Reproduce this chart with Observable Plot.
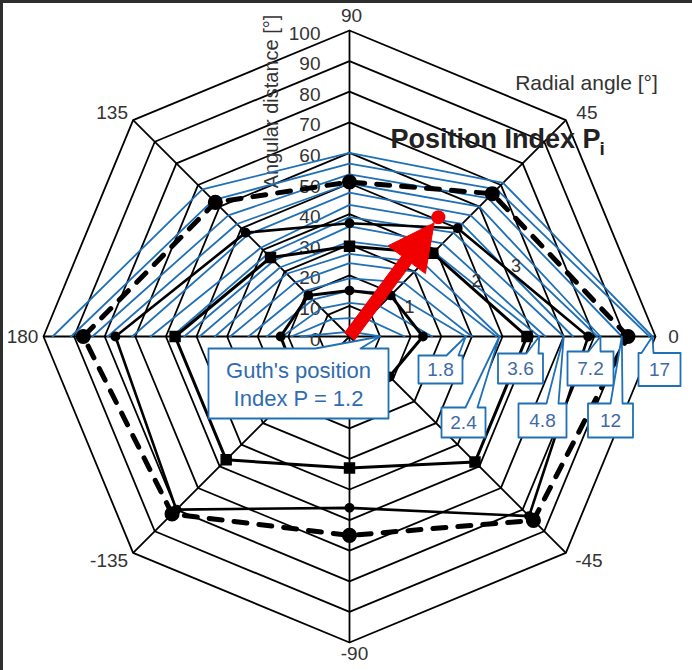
<!DOCTYPE html>
<html><head><meta charset="utf-8">
<script src="https://cdn.jsdelivr.net/npm/d3@7"></script>
<script src="https://cdn.jsdelivr.net/npm/@observablehq/plot@0.6"></script>
<style>
html,body{margin:0;padding:0;background:#fff;}
#wrap{position:relative;width:692px;height:670px;overflow:hidden;background:#fff}
#wrap svg{display:block}
.bl{position:absolute;left:0;top:0;width:3px;height:670px;background:#2e2e2e}
.bt{position:absolute;left:0;top:0;width:692px;height:3px;background:#2e2e2e}
</style></head><body><div id="wrap"></div>
<script>
// ---------- data ----------
const spokeAngles = [0, 45, 90, 135, 180, -135, -90, -45];
const angleLabels = ["0", "45", "90", "135", "180", "-135", "-90", "-45"];
const ringValues = [10, 20, 30, 40, 50, 60, 70, 80, 90, 100];
const tickValues = [0, 10, 20, 30, 40, 50, 60, 70, 80, 90, 100];
const tickLabels = ["0", "10", "20", "30", "40", "50", "60", "70", "80", "90", "100"];

// Guth's position index isolines (upper half), radius at radial angles 0,45,90,135,180
const guthAngles = [0, 45, 90, 135, 180];
const guthR0   = [10, 18, 27, 38, 40, 48, 49, 62, 64, 70, 73, 81, 82, 89, 98, 99];
const guthR45  = [2, 8, 14, 20, 25, 30, 34, 39, 43, 48, 52, 56, 60, 64, 68, 71];
const guthR90  = [1.3, 6, 11, 15, 19, 24, 27, 31, 36, 39, 43, 47, 50, 53, 56.5, 60];
const guthR135 = [2, 8, 13, 17, 21, 25, 29, 32, 35, 38, 41, 47, 52, 56, 63, 68];
const guthR180 = [16, 19, 22, 27, 33, 39, 44, 49, 54, 58, 65, 71, 79, 84, 91, 97];
const guthLabels = ["1.2", null, null, "1.8", null, null, "2.4", "3.6", null, "4.8", null, null, "7.2", "12", null, "17"];

// Position index P_i isolines (all directions), radius at spokeAngles
const pi1 = [24, 19, 15, 19, 22.5, 23, 20, 18.5];
const pi2 = [58, 38.5, 29.5, 36.5, 57, 57, 43, 58];
const pi3 = [78, 50, 37, 48, 76.5, 80, 56, 83];
const piDashed = [91, 66, 50.5, 62, 87, 82, 65, 85];
const piNames = ["1", "2", "3", ""];

// highlighted glare source
const sourceAngle = 53.3;
const sourceDist = 48.6;

// ---------- geometry helpers ----------
const K = 3.06, CX = 349, CY = 336, W = 692, H = 670;
const rad = d => d * Math.PI / 180;
const pol = (a, r) => ({x: r * Math.cos(rad(a)), y: r * Math.sin(rad(a))});
const pxX = p => (p - CX) / K, pxY = p => (CY - p) / K;
const BLUE = "#1f70b6", TXT = "#333", CALL = "#3f6aa6";
const FONT = "Liberation Sans, Arial, Helvetica, sans-serif";

// rings
const ringPts = ringValues.flatMap(v => [...spokeAngles, spokeAngles[0]].map(a => ({ring: v, ...pol(a, v)})));
const spokes = spokeAngles.map(a => pol(a, 100));

// guth lines
const guthR = [guthR0, guthR45, guthR90, guthR135, guthR180];
const guthPts = guthR0.flatMap((_, i) => guthAngles.map((a, j) => ({id: i, ...pol(a, guthR[j][i])})));

// pi lines
const piSeries = [pi1, pi2, pi3, piDashed];
const piPts = s => [...spokeAngles, spokeAngles[0]].map((a, j) => pol(a, piSeries[s][j % spokeAngles.length]));

// callouts layout: [center px x, center px y, w, h, base offset left, base offset right] keyed by guth line index
const calloutLayout = {
  0: [298, 383, 180, 70, 17, 62],
  3: [440, 369, 44, 28, 6, 18],
  6: [463, 422, 44, 30, 2, 14],
  7: [520, 368, 45, 30, 6, 18],
  9: [542, 420, 48, 34, 4, 16],
  12: [590, 368, 46, 34, -2, 10],
  13: [610, 420, 45, 34, 0, 12],
  15: [659, 369, 42, 33, -18, -6]
};
const callouts = [];
const calloutText = [];
guthLabels.forEach((lab, i) => {
  if (lab == null) return;
  const [bx, by, w, h, b1, b2] = calloutLayout[i];
  const tip = pol(0, guthR0[i]);
  const L = bx - w / 2, R = bx + w / 2, T = by - h / 2, B = by + h / 2;
  const poly = [[L, T], [bx + b1, T], null, [bx + b2, T], [R, T], [R, B], [L, B], [L, T]];
  poly.forEach(p => {
    if (p === null) callouts.push({id: i, x: tip.x, y: tip.y});
    else callouts.push({id: i, x: pxX(p[0]), y: pxY(p[1])});
  });
  calloutText.push({x: pxX(bx), y: pxY(by), text: i === 0 ? "Guth's position\nIndex P = " + lab : lab, big: i === 0});
});

// red arrow polygon from the centre to the source
const u = pol(sourceAngle, 1), n = pol(sourceAngle + 90, 1);
const tipD = sourceDist - 2.3, hl = 15, hw = 7.6, sw = 2.0;
const P = (d, s) => ({x: u.x * d + n.x * s, y: u.y * d + n.y * s});
const arrowPts = [P(0, sw), P(tipD - hl, sw), P(tipD - hl, hw), P(tipD, 0), P(tipD - hl, -hw), P(tipD - hl, -sw), P(0, -sw)];

// angle label offsets (px)
const angleOffset = {"0": [18, 0], "45": [21, -7], "90": [2, -15], "135": [-21, -7], "180": [-21, 0], "-135": [-24, 8], "-90": [5, 11], "-45": [23, 8]};
const angleText = spokeAngles.map((a, i) => {
  const v = pol(a, 100), o = angleOffset[angleLabels[i]];
  return {x: v.x + o[0] / K, y: v.y - o[1] / K, text: angleLabels[i]};
});

// labels on P_i lines (between 0 and 45)
const piLabelPts = [0, 1, 2].map(s => {
  const a = pol(0, piSeries[s][0]), b = pol(45, piSeries[s][1]), t = 0.6;
  return {x: a.x + (b.x - a.x) * t + 6 / K, y: a.y + (b.y - a.y) * t + 5 / K, text: piNames[s]};
});

const markerDots = (s, opts) => Plot.dot(spokeAngles.map((a, j) => pol(a, piSeries[s][j])), {x: "x", y: "y", fill: "black", stroke: "black", ...opts});

const chart = Plot.plot({
  width: W, height: H, margin: 0,
  x: {domain: [pxX(0), pxX(W)], range: [0, W], axis: null},
  y: {domain: [pxY(H), pxY(0)], range: [H, 0], axis: null},
  style: {background: "white", fontFamily: FONT},
  marks: [
    Plot.line(ringPts, {x: "x", y: "y", z: "ring", stroke: "black", strokeWidth: 1.8}),
    Plot.link(spokes, {x1: () => 0, y1: () => 0, x2: "x", y2: "y", stroke: "black", strokeWidth: 1.8}),
    Plot.text(tickValues, {x: () => 0, y: d => d, text: (d, i) => tickLabels[i], dx: -29, dy: 3, textAnchor: "end", fontSize: 19, fill: TXT}),
    Plot.text([{x: pxX(271), y: pxY(101)}], {x: "x", y: "y", text: () => "Angular distance [°]", rotate: -90, fontSize: 20, fill: TXT}),
    Plot.line(guthPts, {x: "x", y: "y", z: "id", stroke: BLUE, strokeWidth: 1.8}),
    Plot.line(piPts(0), {x: "x", y: "y", stroke: "black", strokeWidth: 3}),
    Plot.line(piPts(1), {x: "x", y: "y", stroke: "black", strokeWidth: 3}),
    Plot.line(piPts(2), {x: "x", y: "y", stroke: "black", strokeWidth: 2.6}),
    Plot.line(piPts(3), {x: "x", y: "y", stroke: "black", strokeWidth: 5, strokeDasharray: "13,12", strokeLinecap: "round"}),
    markerDots(0, {r: 4.2}),
    markerDots(1, {r: 5.6, symbol: "square"}),
    markerDots(2, {r: 4.2}),
    markerDots(3, {r: 6.8}),
    Plot.text(piLabelPts, {x: "x", y: "y", text: "text", fontSize: 18, fill: TXT}),
    Plot.line(callouts, {x: "x", y: "y", z: "id", fill: "white", stroke: BLUE, strokeWidth: 1.8}),
    Plot.text(calloutText.filter(d => !d.big), {x: "x", y: "y", text: "text", fontSize: 19, fill: CALL}),
    Plot.text(calloutText.filter(d => d.big), {x: "x", y: "y", text: "text", fontSize: 22, lineHeight: 1.27, fill: "#2f6db0"}),
    Plot.line(arrowPts, {x: "x", y: "y", fill: "#f00000", stroke: "#f00000", strokeWidth: 1}),
    Plot.dot([pol(sourceAngle, sourceDist)], {x: "x", y: "y", r: 7, fill: "#f00000"}),
    Plot.text(angleText, {x: "x", y: "y", text: "text", fontSize: 19, fill: TXT}),
    Plot.text([{x: pxX(586), y: pxY(83)}], {x: "x", y: "y", text: () => "Radial angle [°]", fontSize: 21, fill: TXT}),
    Plot.text([{x: pxX(390), y: pxY(139)}], {x: "x", y: "y", text: () => "Position Index P", textAnchor: "start", fontSize: 27, fontWeight: "bold", fill: "#222"}),
    Plot.text([{x: pxX(599), y: pxY(148)}], {x: "x", y: "y", text: () => "i", textAnchor: "start", fontSize: 19, fontWeight: "bold", fill: "#222"})
  ]
});
const wrap = document.getElementById("wrap");
wrap.appendChild(chart);
const bl = document.createElement("div"); bl.className = "bl"; wrap.appendChild(bl);
const bt = document.createElement("div"); bt.className = "bt"; wrap.appendChild(bt);
</script></body></html>
